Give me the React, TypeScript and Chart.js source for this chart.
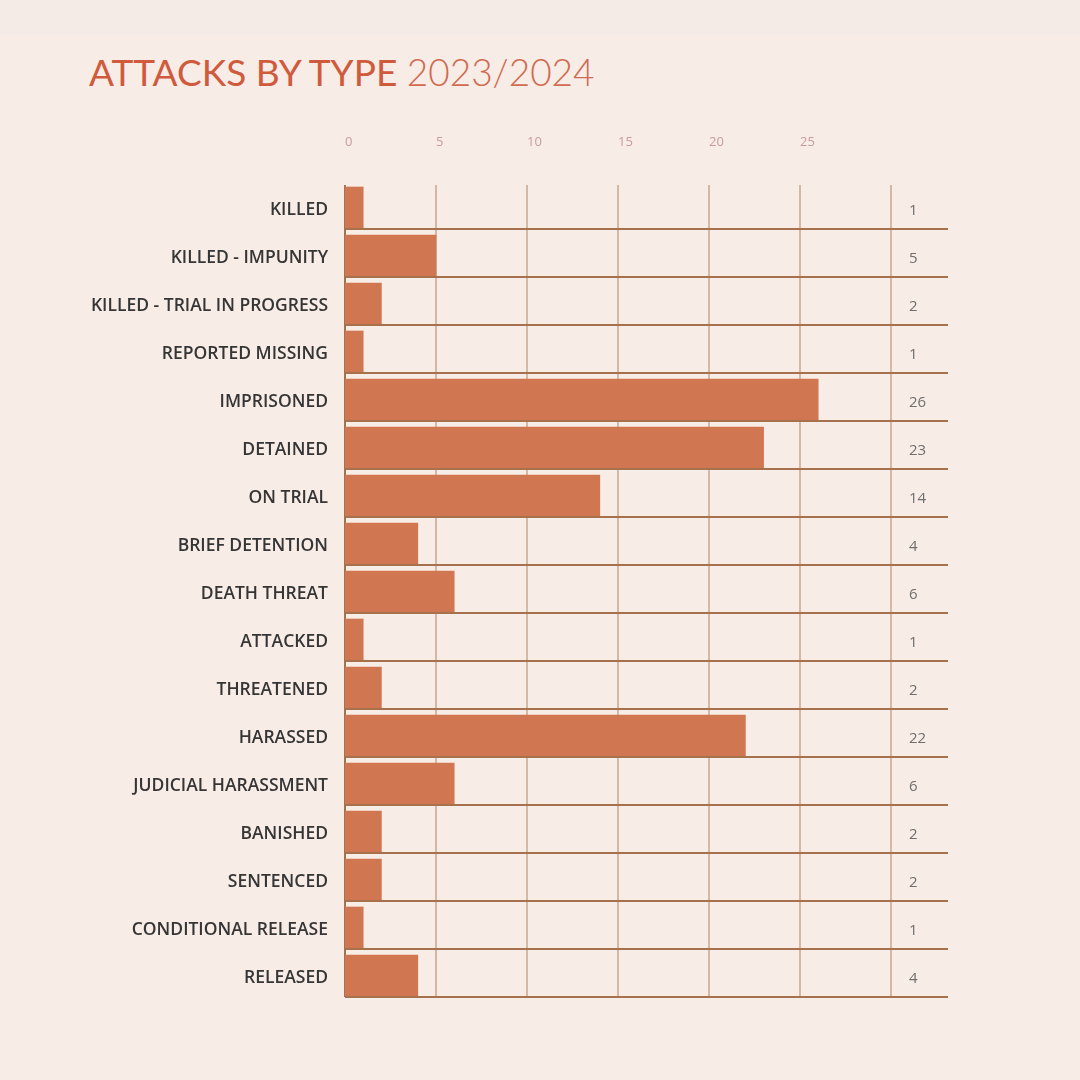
import React, { useEffect, useRef } from "react";
import { Chart, registerables } from "chart.js";

Chart.register(...registerables);

const categories = [
  "KILLED",
  "KILLED - IMPUNITY",
  "KILLED - TRIAL IN PROGRESS",
  "REPORTED MISSING",
  "IMPRISONED",
  "DETAINED",
  "ON TRIAL",
  "BRIEF DETENTION",
  "DEATH THREAT",
  "ATTACKED",
  "THREATENED",
  "HARASSED",
  "JUDICIAL HARASSMENT",
  "BANISHED",
  "SENTENCED",
  "CONDITIONAL RELEASE",
  "RELEASED",
];
const values = [1, 5, 2, 1, 26, 23, 14, 4, 6, 1, 2, 22, 6, 2, 2, 1, 4];
const tickValues = [0, 5, 10, 15, 20, 25];
const gridValues = [0, 5, 10, 15, 20, 25, 30];
const axisMax = 30;

const BG = "#f8ece6";
const BAR = "#d07752";
const ROWLINE = "#a6724d";
const GRID = "rgba(175,130,100,0.5)";
const BAR_THICK = 42;

const gridPlugin = {
  id: "customGrid",
  beforeDatasetsDraw(chart: any) {
    const { ctx, scales } = chart;
    const x = scales.x;
    const y = scales.y;
    const top = y.getPixelForValue(0) - BAR_THICK / 2 - 2;
    const bottom = y.getPixelForValue(categories.length - 1) + BAR_THICK / 2;
    ctx.save();
    ctx.lineWidth = 2;
    gridValues.forEach((v) => {
      const xx = Math.round(x.getPixelForValue(v));
      ctx.strokeStyle = v === 0 ? ROWLINE : GRID;
      ctx.beginPath();
      ctx.moveTo(xx, top);
      ctx.lineTo(xx, bottom);
      ctx.stroke();
    });
    ctx.restore();
  },
  afterDatasetsDraw(chart: any) {
    const { ctx, chartArea, scales } = chart;
    const y = scales.y;
    const x = scales.x;
    ctx.save();
    ctx.strokeStyle = ROWLINE;
    ctx.lineWidth = 2;
    for (let i = 0; i < categories.length; i++) {
      const yy = Math.round(y.getPixelForValue(i) + BAR_THICK / 2);
      ctx.beginPath();
      ctx.moveTo(x.getPixelForValue(0), yy);
      ctx.lineTo(948, yy);
      ctx.stroke();
    }
    ctx.textBaseline = "middle";
    ctx.fillStyle = "#6e6e6e";
    ctx.font = "15px 'Open Sans'";
    ctx.textAlign = "left";
    values.forEach((v, i) => {
      ctx.fillText(String(v), chartArea.right + 18, y.getPixelForValue(i) + 3);
    });
    ctx.fillStyle = "#353535";
    ctx.font = "600 17.5px 'Open Sans'";
    ctx.textAlign = "right";
    categories.forEach((c, i) => {
      ctx.fillText(c, x.getPixelForValue(0) - 17, y.getPixelForValue(i) + 2);
    });
    ctx.restore();
  },
};

export default function App() {
  const ref = useRef<HTMLCanvasElement>(null);
  useEffect(() => {
    if (!ref.current) return;
    const chart = new Chart(ref.current, {
      type: "bar",
      data: {
        labels: categories,
        datasets: [
          {
            data: values,
            backgroundColor: BAR,
            borderWidth: 0,
            barThickness: BAR_THICK,
          },
        ],
      },
      options: {
        indexAxis: "y",
        responsive: false,
        animation: false,
        layout: { padding: { left: 0, right: 189, top: 0, bottom: 80 } },
        plugins: {
          legend: { display: false },
          tooltip: { enabled: false },
          title: { display: false },
        },
        scales: {
          x: {
            position: "top",
            min: 0,
            max: axisMax,
            afterFit: (s: any) => {
              s.height = 184;
            },
            afterBuildTicks: (s: any) => {
              s.ticks = tickValues.map((v) => ({ value: v }));
            },
            ticks: {
              align: "start",
              padding: 34,
              color: "#c99aa2",
              font: { family: "'Open Sans'", size: 13 },
            },
            grid: { display: false, drawTicks: false },
            border: { display: false },
          },
          y: {
            afterFit: (s: any) => {
              s.width = 345;
            },
            ticks: { display: false },
            grid: { display: false, drawTicks: false },
            border: { display: false },
          },
        },
      },
      plugins: [gridPlugin],
    });
    return () => chart.destroy();
  }, []);

  return (
    <div
      style={{
        position: "absolute",
        left: 0,
        top: 0,
        width: 1080,
        height: 1080,
        background: BG,
        overflow: "hidden",
      }}
    >
      <div style={{ position: "absolute", left: 0, top: 0, width: 1080, height: 35, background: "#f4ebe6" }} />
      <div
        style={{
          position: "absolute",
          left: 89,
          top: 50,
          fontFamily: "Lato, 'Open Sans', sans-serif",
          fontSize: 37,
          lineHeight: "44px",
          whiteSpace: "nowrap",
          letterSpacing: "0px",
        }}
      >
        <span style={{ color: "#cf5a3c", fontWeight: 400 }}>ATTACKS BY TYPE </span>
        <span style={{ color: "#d06a50", fontWeight: 300 }}>2023/2024</span>
      </div>
      <canvas ref={ref} width={1080} height={1080} style={{ position: "absolute", left: 0, top: 0 }} />
    </div>
  );
}
